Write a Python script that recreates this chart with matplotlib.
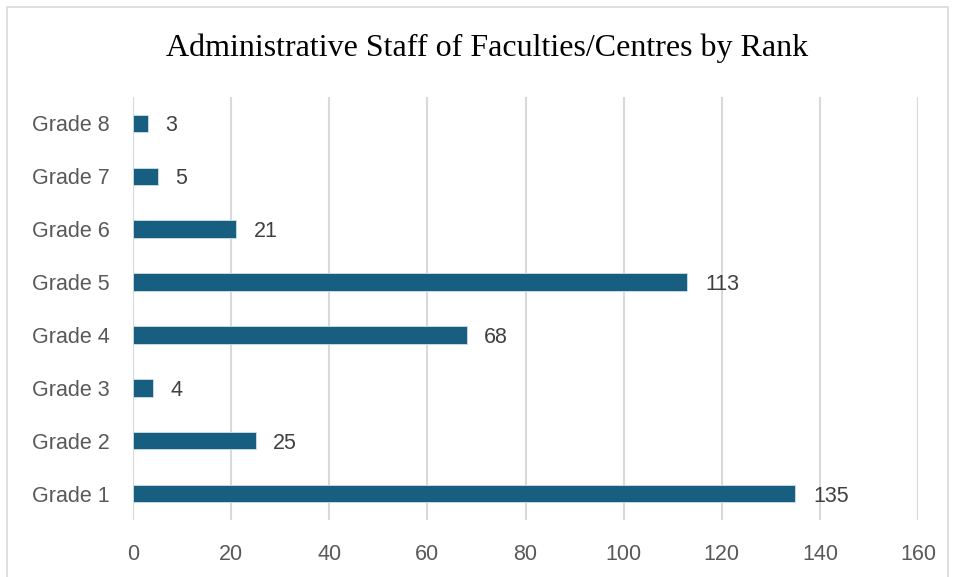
import matplotlib
matplotlib.use("Agg")
import matplotlib.pyplot as plt
from matplotlib.patches import Rectangle

categories = ["Grade 1", "Grade 2", "Grade 3", "Grade 4", "Grade 5", "Grade 6", "Grade 7", "Grade 8"]
values = [135, 25, 4, 68, 113, 21, 5, 3]
xticks = [0, 20, 40, 60, 80, 100, 120, 140, 160]

W, H = 954, 577
fig = plt.figure(figsize=(W/100, H/100), dpi=100)
ax = fig.add_axes([133/W, 1-520/H, (918-133)/W, (520-97)/H])

FS = 15.5
bar_color = "#175e80"
ypos = list(range(len(categories)))
ax.barh(ypos, values, height=0.33, color=bar_color, edgecolor="#cfe0ea", linewidth=0.6, zorder=3)
for y, v in zip(ypos, values):
    ax.text(v + 3.6, y, str(v), va="center_baseline", ha="left", fontsize=FS,
            color="#404040", family="Liberation Sans")

ax.set_xlim(0, 160)
ax.set_ylim(-0.5, len(categories) - 0.5)
ax.set_xticks(xticks)
ax.set_xticklabels([str(t) for t in xticks], fontsize=FS, color="#595959", family="Liberation Sans")
ax.set_yticks(ypos)
ax.set_yticklabels(categories, fontsize=FS, color="#595959", family="Liberation Sans")
ax.tick_params(axis="x", length=0, pad=17)
ax.tick_params(axis="y", length=0, pad=16.5)
ax.grid(axis="x", color="#d9d9d9", linewidth=1.5, zorder=0)
for s in ax.spines.values():
    s.set_visible(False)

fig.text(487/W, 1-48/H, "Administrative Staff of Faculties/Centres by Rank",
         ha="center", va="center", fontsize=23, family="Liberation Serif", color="#000000")

fig.patches.append(Rectangle((7/W, -0.05), (948-7)/W, 1.05-7/H, transform=fig.transFigure,
                             fill=False, edgecolor="#d9d9d9", linewidth=1.2))

fig.savefig("out.png", dpi=100)
